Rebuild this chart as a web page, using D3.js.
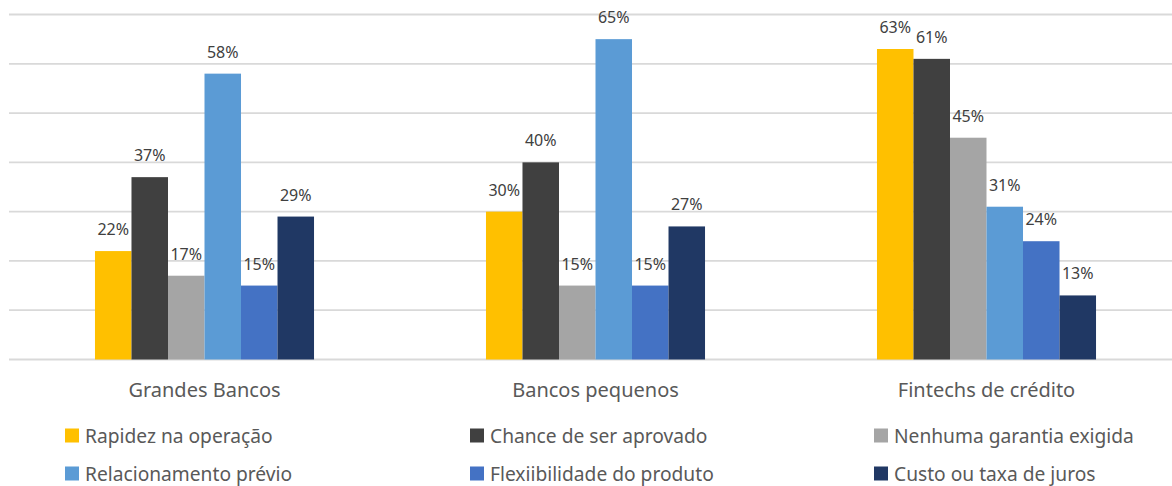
<!DOCTYPE html>
<html>
<head>
<meta charset="utf-8">
<script src="https://cdn.jsdelivr.net/npm/d3@7"></script>
<style>
  html, body { margin: 0; padding: 0; background: #fff; }
  svg { display: block; font-family: "Noto Sans", sans-serif; }
</style>
</head>
<body>
<svg id="chart" width="1172" height="486"></svg>
<script>
// Categories of lender and the attributes rated for each
const categories = ["Grandes Bancos", "Bancos pequenos", "Fintechs de crédito"];
const seriesNames = [
  "Rapidez na operação",
  "Chance de ser aprovado",
  "Nenhuma garantia exigida",
  "Relacionamento prévio",
  "Flexiibilidade do produto",
  "Custo ou taxa de juros"
];
// Percent values per series, one entry per category
const rapidez       = [22, 30, 63];
const chance        = [37, 40, 61];
const semGarantia   = [17, 15, 45];
const relacionamento= [58, 65, 31];
const flexibilidade = [15, 15, 24];
const custo         = [29, 27, 13];
const yTicks = [0, 10, 20, 30, 40, 50, 60, 70];

const seriesValues = [rapidez, chance, semGarantia, relacionamento, flexibilidade, custo];
const colors = ["#FFC000", "#404040", "#A5A5A5", "#5B9BD5", "#4472C4", "#203864"];

const svg = d3.select("#chart");
const W = 1172;

const y = d3.scaleLinear().domain([0, 70]).range([359.5, 14.5]);
const x0 = d3.scaleBand().domain(categories).range([9, 1182]).padding(0);
const x1 = d3.scaleBand().domain(seriesNames).range([0, x0.bandwidth()])
  .paddingInner(0).paddingOuter(2.355);

// Horizontal gridlines
svg.append("g").selectAll("line").data(yTicks).join("line")
  .attr("x1", 9).attr("x2", W)
  .attr("y1", d => y(d)).attr("y2", d => y(d))
  .attr("stroke", "#d9d9d9").attr("stroke-width", 1.8);

// Bars grouped by category
const rows = [];
categories.forEach((c, ci) => {
  seriesNames.forEach((s, si) => {
    rows.push({ cat: c, series: s, value: seriesValues[si][ci], color: colors[si] });
  });
});

const g = svg.append("g");
g.selectAll("rect").data(rows).join("rect")
  .attr("x", d => x0(d.cat) + x1(d.series))
  .attr("y", d => y(d.value))
  .attr("width", x1.bandwidth())
  .attr("height", d => y(0) - y(d.value))
  .attr("fill", d => d.color);

// Value labels above each bar
g.selectAll("text.val").data(rows).join("text")
  .attr("class", "val")
  .attr("x", d => x0(d.cat) + x1(d.series) + x1.bandwidth() / 2)
  .attr("y", d => y(d.value) - 16)
  .attr("text-anchor", "middle")
  .attr("font-size", 16)
  .attr("fill", "#404040")
  .text(d => d.value + "%");

// Category axis labels
svg.append("g").selectAll("text").data(categories).join("text")
  .attr("x", d => x0(d) + x0.bandwidth() / 2)
  .attr("y", 396.5)
  .attr("text-anchor", "middle")
  .attr("font-size", 20)
  .attr("fill", "#595959")
  .text(d => d);

// Legend: three columns, two rows
const legendCols = [65, 470, 874];
const legendRows = [442.5, 480.5];
const legend = svg.append("g").selectAll("g").data(seriesNames).join("g")
  .attr("transform", (d, i) => `translate(${legendCols[i % 3]},${legendRows[Math.floor(i / 3)]})`);
legend.append("rect")
  .attr("x", 0).attr("y", -14).attr("width", 14).attr("height", 14)
  .attr("fill", (d, i) => colors[i]);
legend.append("text")
  .attr("x", 20).attr("y", 0)
  .attr("font-size", 19.2)
  .attr("fill", "#595959")
  .text(d => d);
</script>
</body>
</html>
